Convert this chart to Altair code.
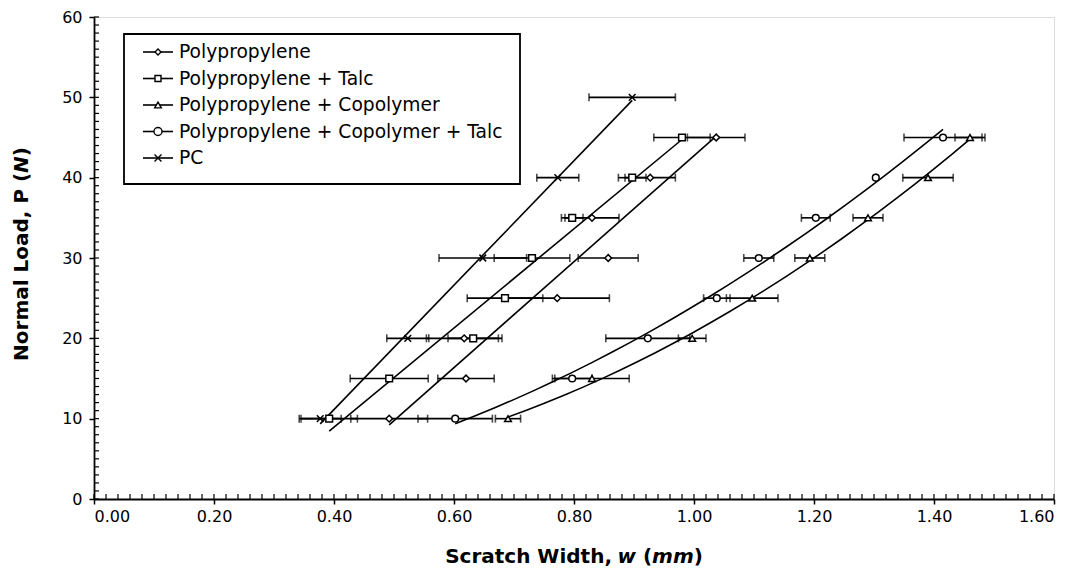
import altair as alt
import pandas as pd

# ---------------- data ----------------
series_names = ["Polypropylene", "Polypropylene + Talc", "Polypropylene + Copolymer",
                "Polypropylene + Copolymer + Talc", "PC"]
loads = [10, 15, 20, 25, 30, 35, 40, 45]
pc_loads = [10, 20, 30, 40, 50]

pp_w = [0.492, 0.620, 0.617, 0.772, 0.857, 0.830, 0.927, 1.037]
pp_e = [0.064, 0.047, 0.063, 0.087, 0.050, 0.045, 0.042, 0.048]
ppt_w = [0.392, 0.492, 0.632, 0.685, 0.730, 0.797, 0.897, 0.980]
ppt_e = [0.047, 0.065, 0.042, 0.063, 0.063, 0.018, 0.023, 0.047]
ppc_w = [0.690, 0.830, 0.997, 1.097, 1.193, 1.290, 1.390, 1.460]
ppc_e = [0.021, 0.062, 0.023, 0.043, 0.025, 0.025, 0.042, 0.025]
ppct_w = [0.602, 0.797, 0.923, 1.038, 1.108, 1.203, 1.303, 1.415]
ppct_e = [0.062, 0.033, 0.070, 0.022, 0.025, 0.024, 0.000, 0.065]
pc_w = [0.377, 0.523, 0.648, 0.773, 0.897]
pc_e = [0.035, 0.035, 0.073, 0.035, 0.072]

x_ticks = [0.0, 0.2, 0.4, 0.6, 0.8, 1.0, 1.2, 1.4, 1.6]
y_ticks = [0, 10, 20, 30, 40, 50, 60]
x_minor = [round(i * 0.02, 2) for i in range(81)]
y_minor = list(range(61))

linear_series = [series_names[0], series_names[1], series_names[4]]
poly_series = [series_names[2], series_names[3]]

# ---------------- table ----------------
rows = []
for name, P, w, e in [
    (series_names[0], loads, pp_w, pp_e),
    (series_names[1], loads, ppt_w, ppt_e),
    (series_names[2], loads, ppc_w, ppc_e),
    (series_names[3], loads, ppct_w, ppct_e),
    (series_names[4], pc_loads, pc_w, pc_e),
]:
    for p, wv, ev in zip(P, w, e):
        rows.append({"series": name, "P": p, "w": wv, "lo": wv - ev, "hi": wv + ev})
df = pd.DataFrame(rows)

# ---------------- layout ----------------
W, H = 960, 482
FONT = "DejaVu Sans"
LAB = 16
TITLE_FS = 20

xs = alt.Scale(domain=[0, 1.6], nice=False, zero=False)
ys = alt.Scale(domain=[0, 60], nice=False, zero=False)

xaxis = alt.Axis(values=x_ticks, format=".2f", title=None, grid=False, tickSize=5,
                 tickWidth=1.5, domainWidth=1.8, labelFontSize=LAB, labelFont=FONT,
                 labelColor="black", tickColor="black", domainColor="black", labelPadding=4)
yaxis = alt.Axis(values=y_ticks, format="d", title=None, grid=False, tickSize=5,
                 tickWidth=1.5, domainWidth=1.8, labelFontSize=LAB, labelFont=FONT,
                 labelColor="black", tickColor="black", domainColor="black", labelPadding=7)


def X(f):
    return alt.X(f"{f}:Q", scale=xs, axis=xaxis)


def Y(f):
    return alt.Y(f"{f}:Q", scale=ys, axis=yaxis)


shape_range = ["diamond", "square", "triangle-up", "circle", "M-1,-1L1,1M-1,1L1,-1"]
size_range = [45, 45, 55, 80, 60]
shape_scale = alt.Scale(domain=series_names, range=shape_range)
size_scale = alt.Scale(domain=series_names, range=size_range)

base = alt.Chart(df)

lin = base.transform_filter(
    alt.FieldOneOfPredicate(field="series", oneOf=linear_series)
).transform_regression("w", "P", groupby=["series"], method="linear").mark_line(
    color="black", strokeWidth=1.6
).encode(x=X("w"), y=Y("P"), detail="series:N")

poly = base.transform_filter(
    alt.FieldOneOfPredicate(field="series", oneOf=poly_series)
).transform_regression("w", "P", groupby=["series"], method="poly", order=2).mark_line(
    color="black", strokeWidth=1.6
).encode(x=X("w"), y=Y("P"), detail="series:N")

err = base.mark_rule(color="black", strokeWidth=1.6).encode(
    x=X("lo"), x2="hi:Q", y=Y("P"))
cap_lo = base.mark_tick(orient="vertical", color="black", size=8, thickness=1.6).encode(
    x=X("lo"), y=Y("P"))
cap_hi = base.mark_tick(orient="vertical", color="black", size=8, thickness=1.6).encode(
    x=X("hi"), y=Y("P"))

pts = base.mark_point(filled=False, stroke="black", fill="white", fillOpacity=1,
                      strokeWidth=1.5, opacity=1).encode(
    x=X("w"), y=Y("P"),
    shape=alt.Shape("series:N", scale=shape_scale, legend=None),
    size=alt.Size("series:N", scale=size_scale, legend=None),
)

# minor ticks (inside the frame)
xm = alt.Chart(pd.DataFrame({"v": x_minor})).mark_rule(color="black", strokeWidth=1.2).encode(
    x=X("v"), y=alt.value(H), y2=alt.value(H - 5))
ym = alt.Chart(pd.DataFrame({"v": y_minor})).mark_rule(color="black", strokeWidth=1.2).encode(
    y=Y("v"), x=alt.value(0), x2=alt.value(5))

# ---------------- legend ----------------
LX0, LY0 = 30, 17
leg_layers = [
    alt.Chart(pd.DataFrame({"a": [0]})).mark_rect(fill="white", stroke="black", strokeWidth=1.8).encode(
        x=alt.value(LX0), x2=alt.value(LX0 + 396), y=alt.value(LY0), y2=alt.value(LY0 + 150))
]
for i, name in enumerate(series_names):
    yy = LY0 + 18 + i * 26.5
    d = pd.DataFrame({"t": [name]})
    leg_layers.append(alt.Chart(d).mark_rule(color="black", strokeWidth=1.6).encode(
        x=alt.value(LX0 + 19), x2=alt.value(LX0 + 49), y=alt.value(yy)))
    leg_layers.append(alt.Chart(d).mark_point(shape=shape_range[i], size=size_range[i] * 0.8,
                                              filled=False, fill="white", fillOpacity=1,
                                              stroke="black", strokeWidth=1.4, opacity=1).encode(
        x=alt.value(LX0 + 34), y=alt.value(yy)))
    leg_layers.append(alt.Chart(d).mark_text(align="left", baseline="middle", font=FONT,
                                             fontSize=18.7, color="black").encode(
        text="t:N", x=alt.value(LX0 + 55), y=alt.value(yy)))

# ---------------- axis titles with italic parts ----------------
BW = {"S": 1475, "c": 1212, "r": 1011, "a": 1382, "t": 979, "h": 1458, "W": 2104, "i": 702,
      "d": 1466, ",": 780, " ": 713, "w": 1898, "(": 934, "m": 2134, ")": 934, "N": 1714,
      "o": 1407, "l": 702, "L": 1300, "P": 1495}


def tw(s, fs):
    return sum(BW.get(c, 1300) for c in s) / 2048 * fs


def title_layers(pieces, center, other, vertical):
    total = sum(tw(p, TITLE_FS) for p, _ in pieces)
    pos = -total / 2
    out = []
    for p, ital in pieces:
        lead = len(p) - len(p.lstrip(" "))
        start = pos + tw(" " * lead, TITLE_FS)
        txt = p.strip(" ")
        d = pd.DataFrame({"t": [txt]})
        style = dict(align="left", baseline="middle", font=FONT, fontSize=TITLE_FS,
                     fontWeight="bold", fontStyle="italic" if ital else "normal", color="black")
        if vertical:
            enc = dict(text="t:N", x=alt.value(other), y=alt.value(center - start))
            mk = alt.Chart(d).mark_text(angle=270, **style)
        else:
            enc = dict(text="t:N", x=alt.value(center + start), y=alt.value(other))
            mk = alt.Chart(d).mark_text(**style)
        out.append(mk.encode(**enc))
        pos += tw(p, TITLE_FS)
    return out


xt = title_layers([("Scratch Width, ", False), ("w", True), (" (", False), ("mm", True), (")", False)],
                  center=W / 2, other=H + 58, vertical=False)
yt = title_layers([("Normal Load, P (", False), ("N", True), (")", False)],
                  center=H / 2 - 4, other=-72, vertical=True)

chart = alt.layer(lin, poly, err, cap_lo, cap_hi, pts, xm, ym, *leg_layers, *xt, *yt).properties(
    width=W, height=H,
    autosize=alt.AutoSizeParams(type="none"),
    padding={"left": 86, "top": 9, "right": 20, "bottom": 72},
).configure_view(stroke="black", strokeWidth=1.8).configure(background="white")

chart.save("out.html", embed_options={"renderer": "svg", "actions": False})
